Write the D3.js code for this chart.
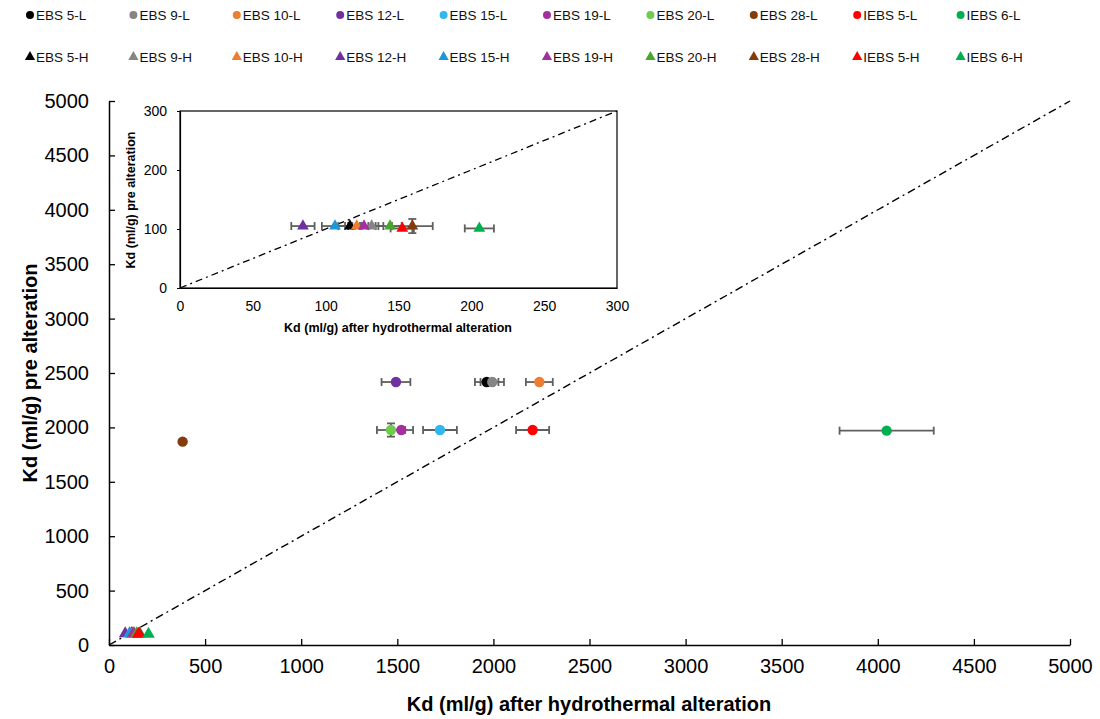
<!DOCTYPE html>
<html><head><meta charset="utf-8">
<script src="https://cdn.jsdelivr.net/npm/d3@7"></script>
<style>body{margin:0;background:#fff}svg{display:block}text{font-family:"Liberation Sans",Arial,sans-serif}</style>
</head><body><svg id="c" width="1100" height="719"></svg>
<script>
const samples = ["EBS 5","EBS 9","EBS 10","EBS 12","EBS 15","EBS 19","EBS 20","EBS 28","IEBS 5","IEBS 6"];
const colorsL = ["#000000","#858585","#ED7D31","#7030A0","#2EB8EF","#A3309C","#6FCB4E","#843C0C","#FF0000","#00B050"];
const colorsH = ["#000000","#858585","#ED7D31","#7030A0","#1E98D4","#A3309C","#4AA530","#843C0C","#FF0000","#00B050"];
// L series (pre alteration high values)
const lowX    = [1965,1994,2239,1493,1722,1521,1467,383,2204,4046];
const lowY    = [2417,2417,2417,2417,1976,1976,1976,1869,1976,1970];
const lowXErr = [61,61,70,75,88,61,73,0,86,245];
const lowYErr = [0,0,0,0,0,0,61,0,0,0];
// H series
const highX    = [116.7,131.6,121.3,84.4,106.4,126.3,144.2,159.5,152.6,205.5];
const highY    = [105,105,105,105,105,105,105,105,101,101];
const highXErr = [8,8,8,8,9,8,8,14,8,10];
const highYErr = [0,0,0,0,0,0,0,12,0,0];
const mainTicks = [0,500,1000,1500,2000,2500,3000,3500,4000,4500,5000];
const insetXTicks = [0,50,100,150,200,250,300];
const insetYTicks = [0,100,200,300];

const svg = d3.select("#c");
const errColor = "#5f5f5f";
const fmt = d3.format("d");

// main scales
const x = d3.scaleLinear().domain([0,5000]).range([109,1070]);
const y = d3.scaleLinear().domain([0,5000]).range([645,101]);

// axes
const gx = svg.append("g").attr("transform","translate(0,645)")
  .call(d3.axisBottom(x).tickValues(mainTicks).tickFormat(fmt).tickSize(-6).tickPadding(14).tickSizeOuter(0));
const gy = svg.append("g").attr("transform","translate(109,0)")
  .call(d3.axisLeft(y).tickValues(mainTicks).tickFormat(fmt).tickSize(-6).tickPadding(20).tickSizeOuter(0));
[gx,gy].forEach(g=>{
  g.select(".domain").attr("stroke","#000").attr("stroke-width",1.5);
  g.selectAll(".tick line").attr("stroke","#000").attr("stroke-width",1.3);
  g.selectAll(".tick text").attr("font-size",20).attr("fill","#000")
   .style("font-family","'Liberation Sans',Arial,sans-serif");
});
gx.selectAll(".tick text").attr("dy","0.71em");

svg.append("text").attr("x",589).attr("y",711).attr("text-anchor","middle")
  .attr("font-size",20).attr("font-weight","bold").text("Kd (ml/g) after hydrothermal alteration");
svg.append("text").attr("transform","translate(37,373) rotate(-90)").attr("text-anchor","middle")
  .attr("font-size",20).attr("font-weight","bold").text("Kd (ml/g) pre alteration");

// 1:1 line
svg.append("line").attr("x1",x(0)).attr("y1",y(0)).attr("x2",x(5000)).attr("y2",y(5000))
  .attr("stroke","#000").attr("stroke-width",1.4).attr("stroke-dasharray","8,4,2,4");

function drawPoints(g, xs, ys, cols, xv, yv, xe, ye, shape, sz){
  xv.forEach((v,i)=>{
    const cx = xs(v), cy = ys(yv[i]);
    if (xe[i]>0){
      const x1 = xs(v-xe[i]), x2 = xs(v+xe[i]);
      g.append("line").attr("x1",x1).attr("x2",x2).attr("y1",cy).attr("y2",cy).attr("stroke",errColor).attr("stroke-width",1.8);
      [x1,x2].forEach(xx=>g.append("line").attr("x1",xx).attr("x2",xx).attr("y1",cy-4).attr("y2",cy+4).attr("stroke",errColor).attr("stroke-width",1.8));
    }
    if (ye[i]>0){
      const y1 = ys(yv[i]-ye[i]), y2 = ys(yv[i]+ye[i]);
      g.append("line").attr("x1",cx).attr("x2",cx).attr("y1",y1).attr("y2",y2).attr("stroke",errColor).attr("stroke-width",1.8);
      [y1,y2].forEach(yy=>g.append("line").attr("x1",cx-4).attr("x2",cx+4).attr("y1",yy).attr("y2",yy).attr("stroke",errColor).attr("stroke-width",1.8));
    }
  });
  xv.forEach((v,i)=>{
    g.append("path").attr("d",d3.symbol().type(shape).size(sz)())
      .attr("transform",`translate(${xs(v)},${ys(yv[i])})`).attr("fill",cols[i]);
  });
}

const gm = svg.append("g");
drawPoints(gm, x, y, colorsL, lowX, lowY, lowXErr, lowYErr, d3.symbolCircle, 85);
drawPoints(gm, x, y, colorsH, highX, highY, highX.map(()=>0), highY.map(()=>0), d3.symbolTriangle, 70);

// inset
const ix = d3.scaleLinear().domain([0,300]).range([180,617]);
const iy = d3.scaleLinear().domain([0,300]).range([288,111]);
const gi = svg.append("g");
gi.append("rect").attr("x",180).attr("y",111).attr("width",437).attr("height",177)
  .attr("fill","#fff").attr("stroke","#000").attr("stroke-width",1.2);
const iga = gi.append("g").attr("transform","translate(180,0)")
  .call(d3.axisLeft(iy).tickValues(insetYTicks).tickSize(3).tickPadding(10).tickSizeOuter(0));
const igb = gi.append("g").attr("transform","translate(0,288)")
  .call(d3.axisBottom(ix).tickValues(insetXTicks).tickSize(0).tickPadding(13).tickSizeOuter(0));
[iga,igb].forEach(g=>{
  g.select(".domain").attr("stroke","#000").attr("stroke-width",1.2);
  g.selectAll(".tick line").attr("stroke","#000");
  g.selectAll(".tick text").attr("font-size",14).attr("fill","#000")
   .style("font-family","'Liberation Sans',Arial,sans-serif");
});
gi.append("text").attr("x",398).attr("y",332).attr("text-anchor","middle")
  .attr("font-size",12.5).attr("font-weight","bold").text("Kd (ml/g) after hydrothermal alteration");
gi.append("text").attr("transform","translate(135,200) rotate(-90)").attr("text-anchor","middle")
  .attr("font-size",12.5).attr("font-weight","bold").text("Kd (ml/g) pre alteration");
gi.append("line").attr("x1",ix(0)).attr("y1",iy(0)).attr("x2",ix(300)).attr("y2",iy(300))
  .attr("stroke","#000").attr("stroke-width",1.3).attr("stroke-dasharray","7,4,2,4");
drawPoints(gi, ix, iy, colorsH, highX, highY, highXErr, highYErr, d3.symbolTriangle, 60);

// legend
const lg = svg.append("g");
samples.forEach((s,i)=>{
  const lx = 30 + i*103.4;
  lg.append("path").attr("d",d3.symbol().type(d3.symbolCircle).size(50)())
    .attr("transform",`translate(${lx},15)`).attr("fill",colorsL[i]);
  lg.append("text").attr("x",lx+6).attr("y",20).attr("font-size",13.5).attr("fill","#111").text(s+"-L");
  lg.append("path").attr("d",d3.symbol().type(d3.symbolTriangle).size(45)())
    .attr("transform",`translate(${lx},57)`).attr("fill",colorsH[i]);
  lg.append("text").attr("x",lx+6).attr("y",62).attr("font-size",13.5).attr("fill","#111").text(s+"-H");
});
</script></body></html>
